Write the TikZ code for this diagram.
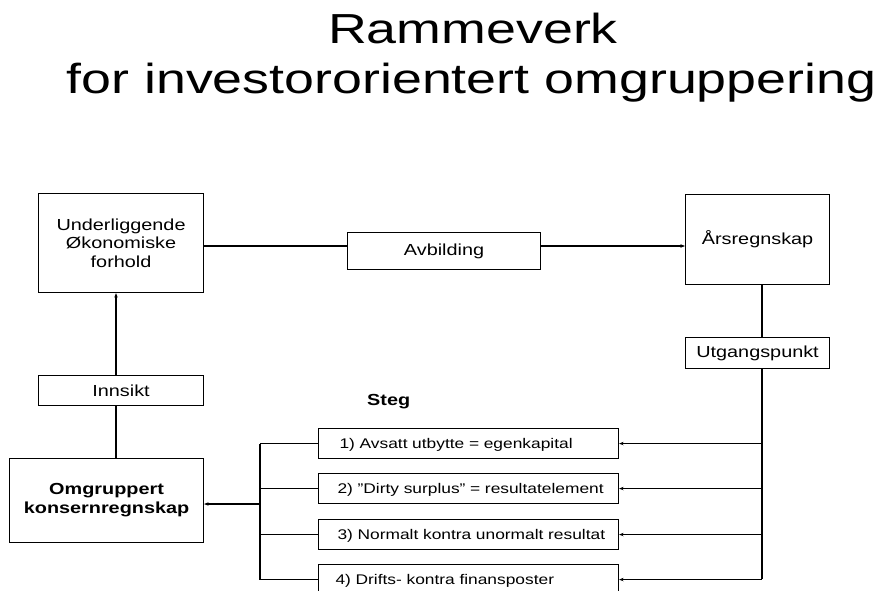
\documentclass[tikz,border=0pt]{standalone}
\usepackage{fontspec}
\setmainfont{Liberation Sans}[FakeStretch=1.24]
\newfontfamily\titlefont{Liberation Sans}[FakeStretch=1.28]
\usetikzlibrary{arrows.meta}
\begin{document}
\begin{tikzpicture}[x=1pt,y=-1pt,
  box/.style={draw, line width=1.1pt, inner sep=0pt, anchor=north west,
    align=center, font=\fontsize{16}{18.5}\selectfont},
  boldbox/.style={box, font=\bfseries\fontsize{16}{19}\selectfont},
  stepbox/.style={draw, line width=1.1pt, inner xsep=0pt, inner ysep=0pt,
    anchor=north west, text width=300pt, minimum height=30pt, align=left,
    text height=10pt, text depth=0pt, font=\fontsize{14}{16}\selectfont},
  titletext/.style={anchor=base, inner sep=0pt,
    font=\titlefont\fontsize{42}{50}\selectfont},
  link/.style={line width=1.1pt},
  arr/.style={link, -{Stealth[length=4.5pt,width=3.5pt]}}]
\clip (0,0) rectangle (883,590);
\fill[white] (0,0) rectangle (883,590);

% title
\node[titletext] (t1) at (473,43) {Rammeverk};
\node[titletext] (t2) at (471.5,93) {for investororientert omgruppering};

% main boxes
\node[box, minimum width=165pt, minimum height=99pt] (und) at (38,193)
  {Underliggende\\Økonomiske\\forhold};
\node[box, minimum width=193pt, minimum height=37pt] (avb) at (347,232) {Avbilding};
\node[box, minimum width=144pt, minimum height=90pt] (ars) at (685,194) {Årsregnskap};
\node[box, minimum width=144pt, minimum height=31pt] (utg) at (685,337) {Utgangspunkt};
\node[box, minimum width=165pt, minimum height=30pt] (ins) at (38,375) {Innsikt};
\node[boldbox, minimum width=194pt, minimum height=84pt] (omg) at (9,458)
  {Omgruppert\\konsernregnskap};
\node[anchor=base west, inner sep=0pt, font=\bfseries\fontsize{16}{19}\selectfont]
  (steg) at (367,405) {Steg};

% steps
\node[stepbox] (s1) at (318,428) {\hspace*{21pt}1) Avsatt utbytte = egenkapital};
\node[stepbox] (s2) at (318,473) {\hspace*{19pt}2) "Dirty surplus" = resultatelement};
\node[stepbox] (s3) at (318,519) {\hspace*{19pt}3) Normalt kontra unormalt resultat};
\node[stepbox] (s4) at (318,564) {\hspace*{17pt}4) Drifts- kontra finansposter};

% routing points
\coordinate (lft) at (116,0);
\coordinate (row) at (0,246);
\coordinate (trunk) at (762,579);
\coordinate (brk) at (260,504);

% connectors
\draw[link] (und.east |- row) -- (avb.west |- row);
\draw[arr] (avb.east |- row) -- (ars.west |- row);
\draw[link] (ars.south -| trunk) -- (utg.north -| trunk);
\draw[link] (utg.south -| trunk) -- (trunk);
\foreach \s in {s1,s2,s3,s4}{
  \draw[arr] (\s.east -| trunk) -- (\s.east);
  \draw[link] (\s.west -| brk) -- (\s.west);
}
\draw[link] (s1.west -| brk) -- (s4.west -| brk);
\draw[arr] (brk) -- (brk -| omg.east);
\draw[arr] (ins.north -| lft) -- (und.south -| lft);
\draw[link] (ins.south -| lft) -- (omg.north -| lft);
\end{tikzpicture}
\end{document}
